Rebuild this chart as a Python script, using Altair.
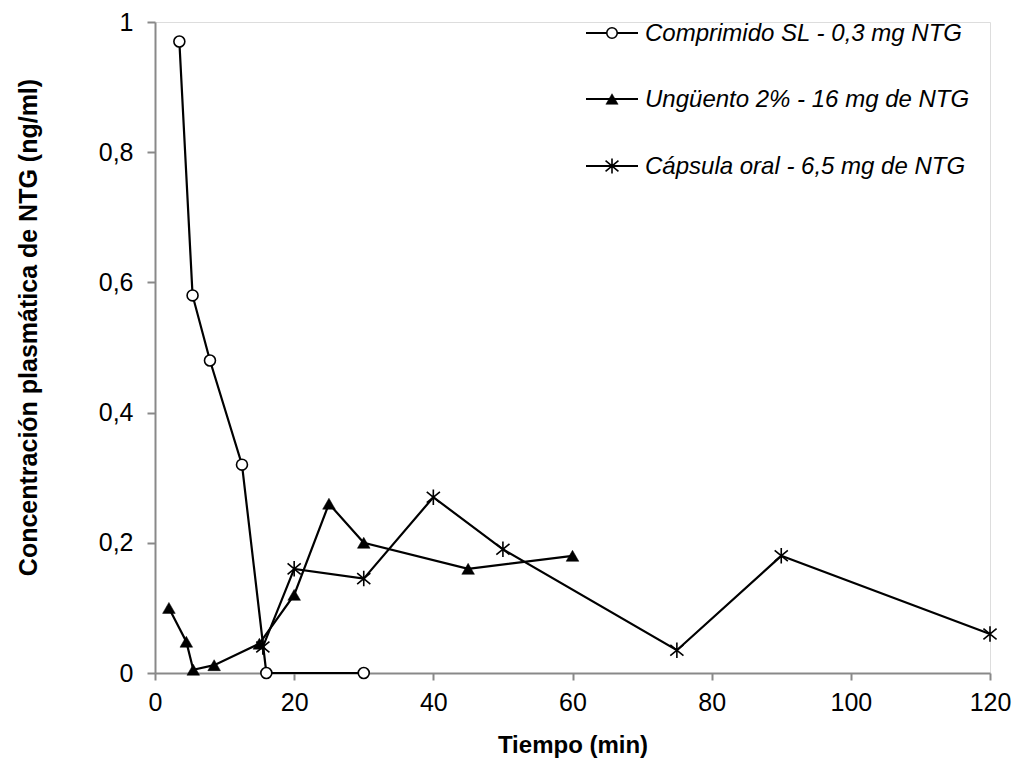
import altair as alt
import pandas as pd

# Concentración plasmática de nitroglicerina (NTG) según la forma farmacéutica
serie_sl = "Comprimido SL - 0,3 mg NTG"
tiempo_sl = [3.5, 5.4, 7.9, 12.5, 16, 30]
conc_sl = [0.97, 0.58, 0.48, 0.32, 0.0, 0.0]

serie_ung = "Ungüento 2% - 16 mg de NTG"
tiempo_ung = [2, 4.5, 5.5, 8.5, 15, 20, 25, 30, 45, 60]
conc_ung = [0.10, 0.048, 0.005, 0.012, 0.045, 0.12, 0.26, 0.20, 0.16, 0.18]

serie_cap = "Cápsula oral - 6,5 mg de NTG"
tiempo_cap = [15.5, 20, 30, 40, 50, 75, 90, 120]
conc_cap = [0.04, 0.16, 0.145, 0.27, 0.19, 0.035, 0.18, 0.06]

x_ticks = [0, 20, 40, 60, 80, 100, 120]
y_ticks = [0, 0.2, 0.4, 0.6, 0.8, 1.0]

FONT = "Liberation Sans"
AXIS_GREY = "#898989"
W, H = 835, 651

# asterisk marker: vertical bar crossed by an X
ASTERISK = "M0,-1L0,1M-0.85,-0.7L0.85,0.7M-0.85,0.7L0.85,-0.7"

x_enc = alt.X(
    "t:Q",
    scale=alt.Scale(domain=[0, 120], nice=False),
    axis=alt.Axis(
        values=x_ticks, title="Tiempo (min)", grid=False,
        domainColor=AXIS_GREY, domainWidth=2, tickColor=AXIS_GREY, tickWidth=2,
        tickSize=7, labelPadding=10, labelFontSize=25, labelFont=FONT,
        labelColor="#000000", labelFlush=False,
        titleFont=FONT, titleFontSize=24, titleFontWeight="bold", titleColor="#000000",
        titleX=W * 0.5, titleY=72, titleBaseline="middle", titleAnchor="middle",
    ),
)
y_enc = alt.Y(
    "c:Q",
    scale=alt.Scale(domain=[0, 1], nice=False),
    axis=alt.Axis(
        values=y_ticks, title="Concentración plasmática de NTG (ng/ml)", grid=False,
        labelExpr="replace(format(datum.value, '~g'), '.', ',')",
        domainColor=AXIS_GREY, domainWidth=2, tickColor=AXIS_GREY, tickWidth=2,
        tickSize=8, labelPadding=14, labelFontSize=25, labelFont=FONT,
        labelColor="#000000", labelFlush=False,
        titleFont=FONT, titleFontSize=25, titleFontWeight="bold", titleColor="#000000",
        titleAngle=-90, titleX=-127, titleY=305, titleBaseline="middle",
        titleAlign="center",
    ),
)


def series_layers(tiempos, concs, shape, size, filled):
    df = pd.DataFrame({"t": tiempos, "c": concs})
    base = alt.Chart(df).encode(x=x_enc, y=y_enc)
    line = base.mark_line(color="#000000", strokeWidth=2.2)
    pts = base.mark_point(
        shape=shape, size=size, filled=filled, opacity=1,
        fill="#000000" if filled else "#ffffff",
        stroke="#000000", strokeWidth=1.6 if not filled else 0.5,
    )
    return line, pts


sl_line, sl_pts = series_layers(tiempo_sl, conc_sl, "circle", 120, False)
ung_line, ung_pts = series_layers(tiempo_ung, conc_ung, "triangle-up", 160, True)
cap_line, cap_pts = series_layers(tiempo_cap, conc_cap, ASTERISK, 240, False)
cap_pts = cap_pts.mark_point(shape=ASTERISK, size=240, filled=False, opacity=1,
                             stroke="#000000", strokeWidth=1.6)


# legend drawn in the top-right corner of the plot area
def legend_entry(label, row_y, shape, size, filled):
    df = pd.DataFrame({"label": [label]})
    base = alt.Chart(df)
    rule = base.mark_rule(color="#000000", strokeWidth=2.2).encode(
        x=alt.value(431), x2=alt.value(483), y=alt.value(row_y)
    )
    sym = base.mark_point(
        shape=shape, size=size, filled=filled, opacity=1,
        fill="#000000" if filled else "#ffffff",
        stroke="#000000", strokeWidth=1.6 if not filled else 0.5,
    ).encode(x=alt.value(457), y=alt.value(row_y))
    txt = base.mark_text(
        align="left", baseline="middle", font=FONT, fontSize=24,
        fontStyle="italic", color="#000000",
    ).encode(x=alt.value(490), y=alt.value(row_y + 1), text="label:N")
    return [rule, sym, txt]


legend = (
    legend_entry(serie_sl, 11, "circle", 110, False)
    + legend_entry(serie_ung, 77, "triangle-up", 150, True)
    + legend_entry(serie_cap, 144, ASTERISK, 230, False)
)

chart = alt.layer(
    sl_line, ung_line, cap_line, ung_pts, cap_pts, sl_pts, *legend
).properties(
    width=W, height=H,
    autosize=alt.AutoSizeParams(type="none"),
    padding={"left": 155, "top": 22, "right": 22, "bottom": 85},
).configure_view(stroke=None).configure(background="#ffffff")

chart.save("out.html", embed_options={"renderer": "svg", "actions": False})
